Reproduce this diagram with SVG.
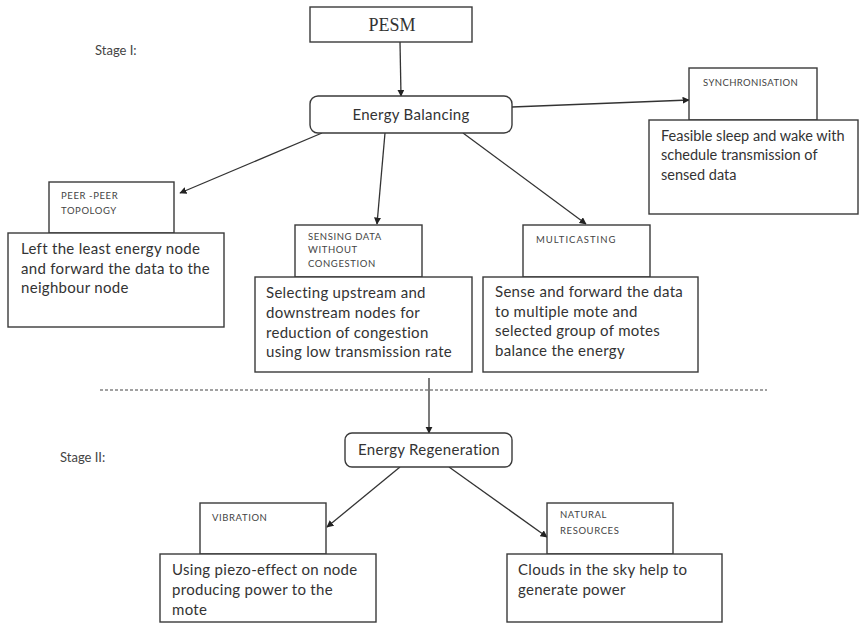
<svg xmlns="http://www.w3.org/2000/svg" width="860" height="624" viewBox="0 0 860 624">
  <style>
    .box { fill: #fff; stroke: #3a3a3a; stroke-width: 1.4; }
    .body { font-family: Lato, "Open Sans", sans-serif; font-size: 15px; fill: #333; letter-spacing: 0.3px; }
    .tight { font-size: 14.5px; letter-spacing: 0; }
    .cap { font-family: Lato, "Open Sans", sans-serif; font-size: 9.5px; fill: #444; letter-spacing: 0.6px; }
    .stage { font-family: Lato, "Open Sans", sans-serif; font-size: 13px; fill: #444; }
    .edge { stroke: #333; stroke-width: 1.3; fill: none; marker-end: url(#head); }
  </style>
  <defs>
    <marker id="head" viewBox="0 0 10 10" refX="9" refY="5" markerWidth="5.5" markerHeight="5.5" orient="auto" markerUnits="strokeWidth">
      <path d="M0,0 L10,5 L0,10 z" fill="#222"/>
    </marker>
  </defs>

  <rect width="860" height="624" fill="#fff"/>

  <text class="stage" x="95" y="55">Stage I:</text>
  <text class="stage" x="60" y="462">Stage II:</text>

  <!-- dashed stage separator -->
  <line x1="100" y1="390" x2="767" y2="390" stroke="#444" stroke-width="1.2" stroke-dasharray="3 2"/>

  <g id="connectors">
    <line class="edge" x1="400" y1="42" x2="401" y2="96"/>
    <line class="edge" x1="512" y1="107" x2="689" y2="100"/>
    <line class="edge" x1="322" y1="133" x2="180" y2="193"/>
    <line class="edge" x1="385" y1="133" x2="377" y2="224"/>
    <line class="edge" x1="463" y1="133" x2="586" y2="224"/>
    <line class="edge" x1="429" y1="378" x2="429" y2="433"/>
    <line class="edge" x1="400" y1="467" x2="327" y2="527"/>
    <line class="edge" x1="449" y1="467" x2="547" y2="537"/>
  </g>

  <g id="pesm">
    <rect class="box" x="310" y="7" width="162" height="35"/>
    <text x="392" y="31" text-anchor="middle" font-family="'Liberation Serif', serif" font-size="18" fill="#333">PESM</text>
  </g>

  <g id="energy-balancing">
    <rect class="box" x="310" y="96" width="202" height="37" rx="8"/>
    <text class="body" x="411" y="120" text-anchor="middle">Energy Balancing</text>
  </g>

  <g id="synchronisation">
    <rect class="box" x="689" y="68" width="128" height="52"/>
    <text class="cap" x="703" y="86" style="letter-spacing:0.4px">SYNCHRONISATION</text>
    <rect class="box" x="649" y="120" width="209" height="94"/>
    <text class="body tight" x="661" y="141">Feasible sleep and wake with</text>
    <text class="body tight" x="661" y="160">schedule transmission of</text>
    <text class="body tight" x="661" y="180">sensed data</text>
  </g>

  <g id="peer-peer">
    <rect class="box" x="49" y="182" width="125" height="51"/>
    <text class="cap" x="61" y="199">PEER -PEER</text>
    <text class="cap" x="61" y="214">TOPOLOGY</text>
    <rect class="box" x="8" y="233" width="216" height="94"/>
    <text class="body" x="21" y="254">Left the least energy node</text>
    <text class="body" x="21" y="274">and forward the data to the</text>
    <text class="body" x="21" y="293">neighbour node</text>
  </g>

  <g id="sensing">
    <rect class="box" x="295" y="225" width="127" height="52"/>
    <text class="cap" x="308" y="240">SENSING DATA</text>
    <text class="cap" x="308" y="253">WITHOUT</text>
    <text class="cap" x="308" y="267">CONGESTION</text>
    <rect class="box" x="255" y="277" width="217" height="95"/>
    <text class="body" x="266" y="298">Selecting upstream and</text>
    <text class="body" x="266" y="318">downstream nodes for</text>
    <text class="body" x="266" y="338">reduction of congestion</text>
    <text class="body" x="266" y="357">using low transmission rate</text>
  </g>

  <g id="multicasting">
    <rect class="box" x="523" y="225" width="127" height="52"/>
    <text class="cap" x="536" y="243" style="letter-spacing:1px">MULTICASTING</text>
    <rect class="box" x="483" y="277" width="215" height="95"/>
    <text class="body" x="495" y="297">Sense and forward the data</text>
    <text class="body" x="495" y="317">to multiple mote and</text>
    <text class="body" x="495" y="336">selected group of motes</text>
    <text class="body" x="495" y="356">balance the energy</text>
  </g>

  <g id="energy-regeneration">
    <rect class="box" x="345" y="433" width="167" height="34" rx="7"/>
    <text class="body" x="429" y="455" text-anchor="middle">Energy Regeneration</text>
  </g>

  <g id="vibration">
    <rect class="box" x="200" y="503" width="126" height="51"/>
    <text class="cap" x="212" y="521">VIBRATION</text>
    <rect class="box" x="160" y="554" width="216" height="68"/>
    <text class="body" x="172" y="575">Using piezo-effect on node</text>
    <text class="body" x="172" y="595">producing power to the</text>
    <text class="body" x="172" y="615">mote</text>
  </g>

  <g id="natural-resources">
    <rect class="box" x="547" y="503" width="126" height="51"/>
    <text class="cap" x="560" y="518">NATURAL</text>
    <text class="cap" x="560" y="534">RESOURCES</text>
    <rect class="box" x="507" y="554" width="215" height="68"/>
    <text class="body" x="518" y="575">Clouds in the sky help to</text>
    <text class="body" x="518" y="595">generate power</text>
  </g>
</svg>
